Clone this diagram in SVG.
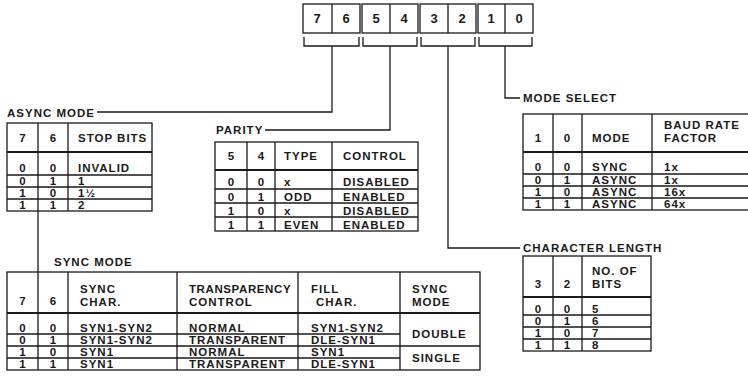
<svg xmlns="http://www.w3.org/2000/svg" width="748" height="380" viewBox="0 0 748 380">
<style>
text{font-family:"Liberation Sans",Arial,sans-serif;font-weight:bold;font-size:11.5px;letter-spacing:1px;fill:#1a1a1a}
.c{text-anchor:middle;letter-spacing:0}
.r{font-size:13px}
.n{letter-spacing:0.6px}
.b{fill:none;stroke:#1a1a1a;stroke-width:1.3}
.h{fill:none;stroke:#1a1a1a;stroke-width:2}
.w{fill:#fff;stroke:#1a1a1a;stroke-width:1.3}
</style>
<rect width="748" height="380" fill="#fff"/>
<g id="register">
<rect class="w" x="303" y="4" width="57" height="29"/>
<rect class="w" x="362" y="4" width="56" height="29"/>
<rect class="w" x="420" y="4" width="56" height="29"/>
<rect class="w" x="478" y="4" width="55" height="29"/>
<path class="b" d="M332 4V33M390 4V33M448 4V33M505 4V33"/>
<text class="c r" x="317" y="23">7</text><text class="c r" x="346" y="23">6</text>
<text class="c r" x="376" y="23">5</text><text class="c r" x="404" y="23">4</text>
<text class="c r" x="434" y="23">3</text><text class="c r" x="462" y="23">2</text>
<text class="c r" x="491" y="23">1</text><text class="c r" x="519" y="23">0</text>
</g>
<g id="connectors">
<path class="b" d="M304 37V46H359V37M363 37V46H417V37M421 37V46H475V37M479 37V46H532V37"/>
<path class="b" d="M332 46V112H97"/>
<path class="b" d="M390 46V130H265"/>
<path class="b" d="M448 46V248H520"/>
<path class="b" d="M505 46V98H520"/>
<path class="b" d="M38 211V272"/>
</g>
<g id="labels">
<text x="7" y="117">ASYNC MODE</text>
<text x="216" y="134">PARITY</text>
<text x="523" y="102">MODE SELECT</text>
<text x="523" y="252">CHARACTER LENGTH</text>
<text x="54" y="266">SYNC MODE</text>
</g>
<g id="async-table">
<rect class="b" x="7" y="123" width="145" height="88"/>
<path class="b" d="M38 123V211M68 123V211M7 175H152M7 187H152M7 199H152"/>
<path class="h" d="M7 152H152"/>
<text class="c" x="22.5" y="142">7</text><text class="c" x="53" y="142">6</text><text x="78" y="142">STOP BITS</text>
<text class="c" x="22.5" y="172">0</text><text class="c" x="53" y="172">0</text><text x="78" y="172">INVALID</text>
<text class="c" x="22.5" y="185">0</text><text class="c" x="53" y="185">1</text><text x="78" y="185">1</text>
<text class="c" x="22.5" y="197">1</text><text class="c" x="53" y="197">0</text><text x="78" y="197">1½</text>
<text class="c" x="22.5" y="209">1</text><text class="c" x="53" y="209">1</text><text x="78" y="209">2</text>
</g>
<g id="parity-table">
<rect class="b" x="215" y="142" width="203" height="89"/>
<path class="b" d="M247 142V231M275 142V231M332 142V231M215 189H418M215 203H418M215 217H418"/>
<path class="h" d="M215 170H418"/>
<text class="c" x="231" y="160">5</text><text class="c" x="261" y="160">4</text><text x="284" y="160">TYPE</text><text x="343" y="160">CONTROL</text>
<text class="c" x="231" y="186">0</text><text class="c" x="261" y="186">0</text><text x="284" y="186">x</text><text x="343" y="186">DISABLED</text>
<text class="c" x="231" y="201">0</text><text class="c" x="261" y="201">1</text><text x="284" y="201">ODD</text><text x="343" y="201">ENABLED</text>
<text class="c" x="231" y="215">1</text><text class="c" x="261" y="215">0</text><text x="284" y="215">x</text><text x="343" y="215">DISABLED</text>
<text class="c" x="231" y="229">1</text><text class="c" x="261" y="229">1</text><text x="284" y="229">EVEN</text><text x="343" y="229">ENABLED</text>
</g>
<g id="mode-select-table">
<rect class="b" x="523" y="114" width="240" height="96"/>
<path class="b" d="M553 114V210M582 114V210M652 114V210M523 174H763M523 186H763M523 198H763"/>
<path class="h" d="M523 152H763"/>
<text class="c" x="538" y="142">1</text><text class="c" x="567" y="142">0</text><text x="592" y="142">MODE</text>
<text x="664" y="129">BAUD RATE</text><text x="664" y="142">FACTOR</text>
<text class="c" x="538" y="171">0</text><text class="c" x="567" y="171">0</text><text x="592" y="171">SYNC</text><text x="664" y="171">1x</text>
<text class="c" x="538" y="184">0</text><text class="c" x="567" y="184">1</text><text x="592" y="184">ASYNC</text><text x="664" y="184">1x</text>
<text class="c" x="538" y="196">1</text><text class="c" x="567" y="196">0</text><text x="592" y="196">ASYNC</text><text x="664" y="196">16x</text>
<text class="c" x="538" y="208">1</text><text class="c" x="567" y="208">1</text><text x="592" y="208">ASYNC</text><text x="664" y="208">64x</text>
</g>
<g id="char-length-table">
<rect class="b" x="523" y="256" width="128" height="95"/>
<path class="b" d="M553 256V351M582 256V351M523 315H651M523 327H651M523 339H651"/>
<path class="h" d="M523 297H651"/>
<text class="c" x="538" y="288">3</text><text class="c" x="567" y="288">2</text>
<text x="592" y="275">NO. OF</text><text x="592" y="288">BITS</text>
<text class="c" x="538" y="313">0</text><text class="c" x="567" y="313">0</text><text x="592" y="313">5</text>
<text class="c" x="538" y="325">0</text><text class="c" x="567" y="325">1</text><text x="592" y="325">6</text>
<text class="c" x="538" y="337">1</text><text class="c" x="567" y="337">0</text><text x="592" y="337">7</text>
<text class="c" x="538" y="349">1</text><text class="c" x="567" y="349">1</text><text x="592" y="349">8</text>
</g>
<g id="sync-table">
<rect class="b" x="7" y="272" width="473" height="98"/>
<path class="b" d="M38 272V370M68 272V370M177 272V370M298 272V370M400 272V370M7 334H400M7 346H480M7 358H400"/>
<path class="h" d="M7 313H480"/>
<text class="c" x="22.5" y="305">7</text><text class="c" x="53" y="305">6</text>
<text x="80" y="293">SYNC</text><text x="80" y="306">CHAR.</text>
<text class="n" x="189" y="293">TRANSPARENCY</text><text x="189" y="306">CONTROL</text>
<text x="311" y="293">FILL</text><text x="316" y="306">CHAR.</text>
<text x="412" y="293">SYNC</text><text x="412" y="306">MODE</text>
<text class="c" x="22.5" y="332">0</text><text class="c" x="53" y="332">0</text><text x="80" y="332">SYN1-SYN2</text><text x="189" y="332">NORMAL</text><text x="311" y="332">SYN1-SYN2</text>
<text class="c" x="22.5" y="344">0</text><text class="c" x="53" y="344">1</text><text x="80" y="344">SYN1-SYN2</text><text x="189" y="344">TRANSPARENT</text><text x="311" y="344">DLE-SYN1</text>
<text class="c" x="22.5" y="356">1</text><text class="c" x="53" y="356">0</text><text x="80" y="356">SYN1</text><text x="189" y="356">NORMAL</text><text x="311" y="356">SYN1</text>
<text class="c" x="22.5" y="368">1</text><text class="c" x="53" y="368">1</text><text x="80" y="368">SYN1</text><text x="189" y="368">TRANSPARENT</text><text x="311" y="368">DLE-SYN1</text>
<text x="412" y="338">DOUBLE</text><text x="412" y="362">SINGLE</text>
</g>
</svg>
